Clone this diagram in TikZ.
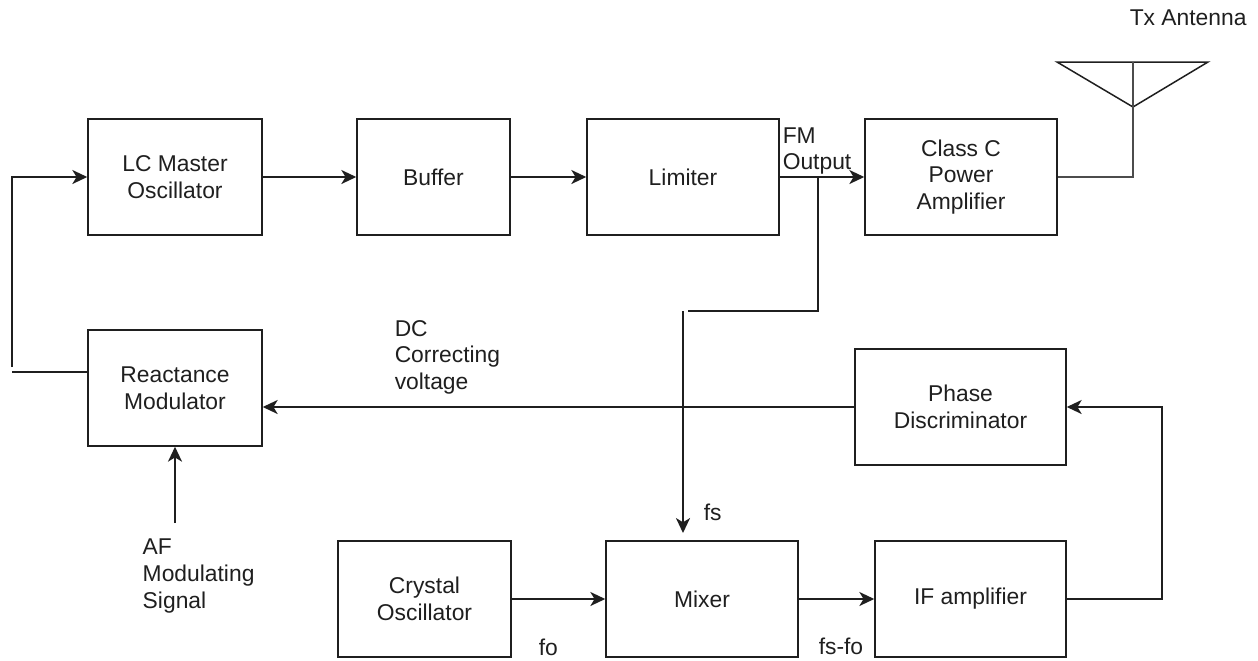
\documentclass[tikz,border=0pt]{standalone}
\usepackage{fontspec}
\setmainfont{Liberation Sans}
\usetikzlibrary{arrows.meta}

\begin{document}
\begin{tikzpicture}[x=0.02cm,y=-0.02cm,>={Stealth[length=8.5pt,width=8pt,inset=2.4pt]},
                    line width=0.85pt,color=black!88,
                    font=\fontsize{13}{15.1}\selectfont,
                    blk/.style={draw,minimum width=#1*0.02cm,minimum height=2.32cm,align=center,inner sep=0pt},
                    txt/.style={anchor=west,align=left,inner sep=0pt}]
  \clip (0,0) rectangle (1258,660);
  \useasboundingbox (0,0) rectangle (1258,660);
  % upper row
  \node[blk=174] (lc) at (175,177) {LC Master\\Oscillator};
  \node[blk=153] (buf) at (433.5,177) {Buffer};
  \node[blk=192] (lim) at (683,177) {Limiter};
  \node[blk=192] (cls) at (961,177) {Class C\\Power\\Amplifier};
  % middle row
  \node[blk=174] (rm) at (175,388) {Reactance\\Modulator};
  \node[blk=211] (pd) at (960.5,407) {Phase\\Discriminator};
  % lower row
  \node[blk=173] (xo) at (424.5,599) {Crystal\\Oscillator};
  \node[blk=192] (mix) at (702,599) {Mixer};
  \node[blk=191] (ifa) at (970.5,599) {IF amplifier};
  % free ends
  \coordinate (fb1) at (12,372);
  \coordinate (fb2) at (12,367);
  \coordinate (tap) at (818,177);
  \coordinate (br1) at (688,311);
  \coordinate (br2) at (683,311);
  \coordinate (fsin) at (683,533);
  \coordinate (af) at (175,523);
  \coordinate (ifr) at (1162,599);
  % antenna
  \coordinate (al) at (1057,62);
  \coordinate (ar) at (1208,62);
  \coordinate (at) at (1133,62);
  \coordinate (ab) at (1133,107);
  \coordinate (ac) at (1133,177);
  \draw (al)--(ar)--(ab)--cycle;
  \draw[line width=1.1pt,black!70] (at)--(ab)--(ac)--(cls.east |- ac);
  % signal path
  \draw[->] (lc)--(buf);
  \draw[->] (buf)--(lim);
  \draw[->] (lim)--(cls);
  \draw (rm.west |- fb1)--(fb1);
  \draw[->] (fb2)--(fb2 |- lc)--(lc);
  \draw (tap)--(tap |- br1)--(br1);
  \draw[->] (br2)--(fsin);
  \draw[->] (pd)--(pd -| rm.east);
  \draw[->] (af)--(rm);
  \draw[->] (xo)--(mix);
  \draw[->] (mix)--(ifa);
  \draw[->] (ifa)--(ifr)--(ifr |- pd)--(pd);
  % labels
  \node[txt] (tx) at (1129,18) {Tx Antenna};
  \node[txt] (fm) at (782,151) {FM\\Output};
  \node[txt] (dc) at (394,357) {DC\\Correcting\\voltage};
  \node[txt] (mod) at (142,576) {AF\\Modulating\\Signal};
  \node[txt] (fs) at (703,512) {fs};
  \node[txt] (fo) at (538,647) {fo};
  \node[txt] (fsfo) at (818,646) {fs-fo};
\end{tikzpicture}
\end{document}
